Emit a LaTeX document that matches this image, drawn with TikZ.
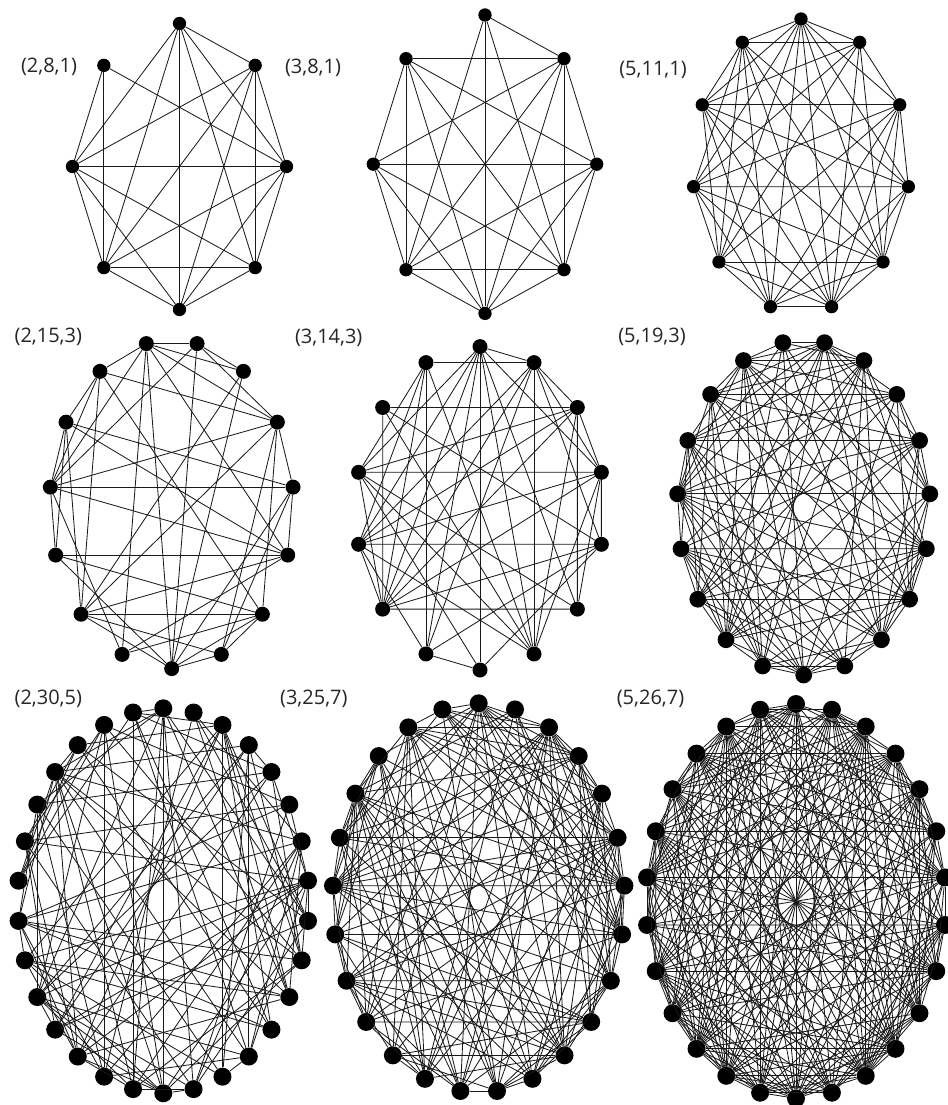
\documentclass[tikz,border=0pt]{standalone}
\usepackage{fontspec}
\setmainfont{Open Sans}
\tikzset{
  vtx/.style={circle, fill=black, draw=none, inner sep=0pt},
  edge/.style={draw=black!90, line width=0.62pt},
  lbl/.style={font=\fontsize{15}{18}\selectfont, text=black!85, inner sep=0pt},
}
% name, n, cx, cy, rx, ry, theta0, dot size
\newcommand\placeverts[8]{%
  \pgfmathtruncatemacro\pvN{#2-1}%
  \foreach \k in {0,...,\pvN}{%
    \pgfmathsetmacro\pvA{#7+\k*360/#2}%
    \node[vtx, minimum size=#8] (#1-\k) at ({#3+#5*sin(\pvA)}, {#4-#6*cos(\pvA)}) {};
  }%
}
% name, n, density
\newcommand\randedges[3]{%
  \pgfmathtruncatemacro\reN{#2-1}%
  \foreach \i in {0,...,\reN}{%
    \foreach \j in {0,...,\reN}{%
      \ifnum\j>\i
        \pgfmathtruncatemacro\reF{rnd<#3}%
        \ifnum\reF=1 \draw[edge] (#1-\i) -- (#1-\j);\fi
      \fi
    }%
  }%
}
\begin{document}
\begin{tikzpicture}[x=0.75pt, y=-0.75pt]
\fill[white] (0,0) rectangle (947,1105);
\useasboundingbox (0,0) rectangle (947,1105);

% labels
\node[lbl] (l1) at (49,66.5) {(2,8,1)};
\node[lbl] (l2) at (313,68) {(3,8,1)};
\node[lbl] (l3) at (653,70) {(5,11,1)};
\node[lbl] (l4) at (48.3,336.5) {(2,15,3)};
\node[lbl] (l5) at (328.7,337.5) {(3,14,3)};
\node[lbl] (l6) at (652,337) {(5,19,3)};
\node[lbl] (l7) at (48.3,699) {(2,30,5)};
\node[lbl] (l8) at (313.8,699) {(3,25,7)};
\node[lbl] (l9) at (650.5,699) {(5,26,7)};

% vertices
\placeverts{g1}{8}{179.5}{166.5}{107}{143}{0}{10pt}
\placeverts{g2}{8}{485}{164.2}{111.7}{149.2}{0}{10pt}
\placeverts{g3}{11}{801}{165.8}{108.5}{146.8}{0}{10pt}
\placeverts{g4}{15}{171.7}{504.3}{122}{164.3}{180}{11.25pt}
\placeverts{g5}{14}{480}{508.3}{124.5}{161.7}{0}{11.25pt}
\placeverts{g6}{19}{803.7}{507.7}{126.5}{167.3}{180}{12.6pt}
\placeverts{g7}{30}{163.3}{900.8}{145.5}{192.5}{0}{13.5pt}
\placeverts{g8}{25}{478.7}{897.9}{146}{194.6}{0}{13.5pt}
\placeverts{g9}{26}{796}{901.2}{150}{197.2}{0}{13.5pt}

% graph (2,8,1)
\foreach \a/\b in {0/1,0/2,0/3,0/4,0/5,0/6,1/2,1/3,1/4,1/5,1/6,2/3,2/4,2/5,2/6,2/7,3/4,3/5,3/6,4/5,4/6,5/6,5/7,6/7}
  \draw[edge] (g1-\a) -- (g1-\b);
% graph (3,8,1)
\foreach \a/\b in {0/1,0/3,0/4,0/5,1/2,1/3,1/4,1/5,1/6,1/7,2/3,2/4,2/5,2/6,2/7,3/4,3/5,3/6,3/7,4/5,4/6,4/7,5/6,5/7,6/7}
  \draw[edge] (g2-\a) -- (g2-\b);

% denser graphs
\pgfmathsetseed{1311}
\randedges{g3}{11}{0.8}
\pgfmathsetseed{2153}
\randedges{g4}{15}{0.45}
\pgfmathsetseed{3143}
\randedges{g5}{14}{0.6}
\pgfmathsetseed{5193}
\randedges{g6}{19}{0.66}
\pgfmathsetseed{2305}
\randedges{g7}{30}{0.25}
\pgfmathsetseed{3257}
\randedges{g8}{25}{0.52}
\pgfmathsetseed{5267}
\randedges{g9}{26}{0.72}
\end{tikzpicture}
\end{document}
